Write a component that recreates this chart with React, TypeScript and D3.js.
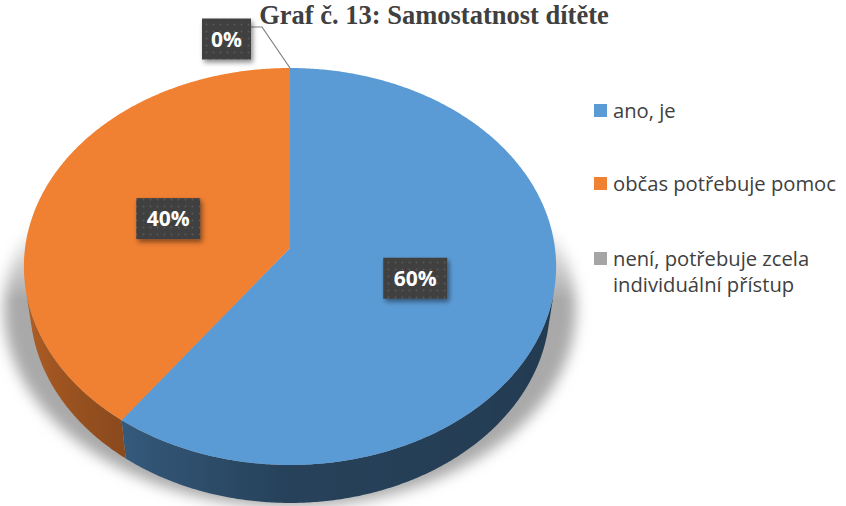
import * as d3 from 'd3';
import React from 'react';

// data
const categories = ['ano, je', 'občas potřebuje pomoc', 'není, potřebuje zcela individuální přístup'];
const legendLines = [['ano, je'], ['občas potřebuje pomoc'], ['není, potřebuje zcela', 'individuální přístup']];
const values = [60, 40, 0];
const colors = ['#5B9BD5', '#F08032', '#A5A5A5'];
const title = 'Graf č. 13: Samostatnost dítěte';

const width = 846;
const height = 506;

// camera for the 3d pie
const cx = 290, cy = 248;
const sinA = 0.7426, cosA = 0.6696;
const D = 7.19, F = 1905, H = 0.228;

function proj(theta: number, r: number, h: number): [number, number] {
    const X = r * Math.sin(theta);
    const Z = -r * Math.cos(theta);
    const Y = -h;
    const d = D - Y * sinA - Z * cosA;
    const up = Y * cosA - Z * sinA;
    return [cx + F * X / d, cy - F * up / d];
}

const deg = Math.PI / 180;
// side wall darkness by angle
const shade = d3.scaleLinear().domain([102, 180, 216, 258]).range([0.38, 0.42, 0.58, 0.75]).clamp(true);

function arcPts(a0: number, a1: number, r: number, h: number) {
    const n = Math.max(2, Math.ceil((a1 - a0) / (0.5 * deg)));
    return d3.range(n + 1).map(i => proj(a0 + (a1 - a0) * i / n, r, h));
}

export default function App() {
    const total = d3.sum(values);
    const pie = d3.pie<number>().sort(null).value(d => d)(values);
    const line = d3.line();

    // visible part of the outer wall
    const vis = Math.acos(-1 / (D * cosA));
    const v0 = vis, v1 = 2 * Math.PI - vis;

    const walls: { d: string; x1: number; x2: number; stops: { o: number; c: string }[] }[] = [];
    pie.forEach((p, i) => {
        if (p.value === 0) return;
        const a0 = Math.max(p.startAngle, v0), a1 = Math.min(p.endAngle, v1);
        if (a1 <= a0) return;
        const top = arcPts(a0, a1, 1, 0);
        const bot = arcPts(a0, a1, 1, H).reverse();
        const x1 = proj(a0, 1, 0)[0], x2 = proj(a1, 1, 0)[0];
        const base = d3.rgb(colors[i]);
        const n = Math.ceil((a1 - a0) / (2 * deg));
        const stops = d3.range(n + 1).map(k => {
            const a = a0 + (a1 - a0) * k / n;
            const f = shade(a / deg);
            return { o: (proj(a, 1, 0)[0] - x1) / (x2 - x1), c: d3.rgb(base.r * f, base.g * f, base.b * f).formatHex() };
        });
        walls.push({ d: line([...top, ...bot])! + 'Z', x1, x2, stops });
    });

    const tops = pie.filter(p => p.value > 0).map(p => ({
        d: line([[cx, cy], ...arcPts(p.startAngle, p.endAngle, 1, 0)])! + 'Z',
        fill: colors[p.index]
    }));

    // shadow outline
    const shadowPts = arcPts(0, 2 * Math.PI, 1, H).map(([x, y]) => [cx + (x - cx) * 1.1, y + 4] as [number, number]);

    const labels = pie.map(p => {
        const txt = Math.round(p.value / total * 100) + '%';
        const mid = (p.startAngle + p.endAngle) / 2;
        let [x, y] = proj(mid, 0.49, 0);
        let leader: [number, number][] | null = null;
        if (p.value === 0) {
            x = 226.5; y = 39;
            leader = [[251, 27], [262, 27], proj(p.startAngle, 1, 0)];
        }
        return { txt, x, y, w: 19 + 15 * txt.length, leader };
    });

    return (
        <svg width={width} height={height} style={{ position: 'absolute', left: 0, top: 0, background: '#fff' }}>
            <defs>
                <filter id="blur" x="-20%" y="-20%" width="140%" height="140%">
                    <feGaussianBlur stdDeviation="7" />
                </filter>
                <linearGradient id="fadeY" x1="0" y1="220" x2="0" y2="300" gradientUnits="userSpaceOnUse">
                    <stop offset="0" stopColor="#fff" stopOpacity="0" />
                    <stop offset="1" stopColor="#fff" stopOpacity="1" />
                </linearGradient>
                <mask id="shadowMask">
                    <rect x="0" y="0" width={width} height={height} fill="url(#fadeY)" />
                </mask>
                {walls.map((w, i) => (
                    <linearGradient key={i} id={'wall' + i} x1={w.x1} x2={w.x2} y1={0} y2={0} gradientUnits="userSpaceOnUse">
                        {w.stops.map((s, k) => <stop key={k} offset={s.o} stopColor={s.c} />)}
                    </linearGradient>
                ))}
                <pattern id="dots" width="7" height="7" patternUnits="userSpaceOnUse">
                    <rect width="7" height="7" fill="#404040" />
                    <circle cx="3.5" cy="3.5" r="0.9" fill="#595959" />
                </pattern>
                <filter id="boxShadow" x="-30%" y="-30%" width="160%" height="160%">
                    <feDropShadow dx="2" dy="3" stdDeviation="2.5" floodColor="#000" floodOpacity="0.45" />
                </filter>
            </defs>

            <text x={434} y={24} textAnchor="middle" fontFamily="'Liberation Serif', 'Times New Roman', serif"
                fontWeight="bold" fontSize={26.5} fill="#404040">{title}</text>

            <g mask="url(#shadowMask)">
                <path d={line(shadowPts)! + 'Z'} fill="#a9a9a9" filter="url(#blur)" />
            </g>

            {walls.map((w, i) => <path key={'w' + i} d={w.d} fill={`url(#wall${i})`} />)}
            {tops.map((t, i) => <path key={'t' + i} d={t.d} fill={t.fill} />)}

            {labels.map((l, i) => (
                <g key={'l' + i}>
                    {l.leader && <path d={line(l.leader)!} fill="none" stroke="#7f7f7f" strokeWidth={1.2} />}
                    <rect x={l.x - l.w / 2} y={l.y - 20.5} width={l.w} height={41} fill="url(#dots)" filter="url(#boxShadow)" />
                    <text x={l.x} y={l.y + 7.5} textAnchor="middle" fontFamily="'Open Sans', sans-serif"
                        fontWeight="bold" fontSize={21} fill="#fff">{l.txt}</text>
                </g>
            ))}

            {categories.map((c, i) => {
                const y0 = [118, 191, 266][i];
                return (
                    <g key={c}>
                        <rect x={594} y={y0 - 14} width={13} height={13} fill={colors[i]} />
                        {legendLines[i].map((t, j) => (
                            <text key={j} x={613} y={y0 + j * 26} fontFamily="'Open Sans', sans-serif" fontSize={20.2}
                                fill="#404040">{t}</text>
                        ))}
                    </g>
                );
            })}
        </svg>
    );
}
